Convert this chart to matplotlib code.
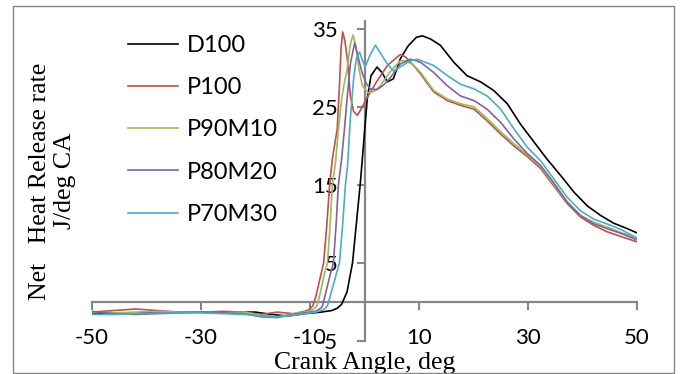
import numpy as np
import matplotlib.pyplot as plt
from matplotlib.patches import Rectangle

# Datos (angulo de ciguenal, tasa neta de liberacion de calor)
ang_d100 = [-50, -45, -40, -35, -30, -25, -20, -17, -14, -11, -8, -6, -5, -4.2, -3.2, -2.2, -1.5, -0.8, -0.4,
            0.5, 1.2, 2.3, 3.2, 4.2, 5.3, 6.6, 8, 9.5, 10.6, 12.1, 13.9, 16.4, 18.8, 21.3, 23.7, 26.2,
            28.6, 31.1, 33.5, 36.0, 38.4, 40.9, 43.3, 45.7, 48.2, 50]
hrr_d100 = [-1.4, -1.5, -1.4, -1.3, -1.3, -1.3, -1.3, -1.6, -1.8, -1.5, -1.3, -1.1, -0.8, -0.3, 1.3, 5.0, 10.0, 15.0, 18.3,
            26.0, 29.0, 30.1, 29.4, 28.2, 28.6, 31.2, 32.8, 33.9, 34.1, 33.7, 32.9, 30.7, 29.0, 28.2, 27.1, 25.4,
            22.8, 20.5, 18.3, 16.2, 14.1, 12.3, 11.1, 10.1, 9.4, 8.85]

ang_p100 = [-50, -46, -42, -38, -34, -30, -26, -22, -19, -16, -13, -11, -10, -9.5, -9, -8.5, -8, -7.5, -6.9, -6.4,
            -5.9, -5.0, -4.6, -4.3, -4.0, -3.6, -3.1, -2.6, -2.0, -1.3, -0.4, 0.5, 2.3, 4.2, 6.0, 6.6, 7.5, 9,
            10.3, 12.7, 15.2, 17.6, 20.1, 22.5, 25, 27.4, 29.9, 32.3, 34.7, 37.2, 39.6, 42.1, 44.5, 47, 50]
hrr_p100 = [-1.3, -1.1, -0.9, -1.1, -1.3, -1.3, -1.2, -1.3, -1.6, -1.3, -1.5, -1.2, -0.9, -0.5, 0.5, 2.0, 3.5, 5.0, 10.0, 15.0,
            18.3, 22.2, 27.7, 32.5, 34.6, 33.5, 30.8, 26.4, 24.4, 23.9, 25.0, 26.2, 28.3, 30.3, 31.4, 31.7, 31.4, 30.3,
            29.2, 26.9, 25.8, 25.2, 24.7, 23.2, 21.5, 20.0, 18.6, 17.1, 14.9, 12.6, 10.9, 9.8, 9.0, 8.4, 7.7]

ang_p90m10 = [-50, -46, -42, -38, -34, -30, -26, -22, -19, -16, -13, -11, -9.5, -8.7, -8.0, -7.4, -6.8, -6.3, -5.9,
              -5.3, -4.8, -4.2, -3.8, -3.2, -2.6, -2.1, -1.6, -1.0, -0.4, 0.7, 1.8, 2.9, 4.8, 6.6, 7.5, 8.4, 9.5,
              10.3, 12.7, 15.2, 17.6, 20.1, 22.5, 25, 27.4, 29.9, 32.3, 34.7, 37.2, 39.6, 42.1, 44.5, 47, 50]
hrr_p90m10 = [-1.3, -1.4, -1.3, -1.2, -1.3, -1.3, -1.4, -1.3, -1.7, -1.9, -1.5, -1.3, -1.0, -0.5, 1.5, 3.5, 5.0, 10.0, 15.0,
              18.0, 22.0, 26.0, 27.7, 29.8, 33.0, 34.2, 32.8, 29.8, 27.7, 26.8, 27.0, 27.7, 29.6, 30.9, 30.9, 30.6, 30.0,
              29.4, 27.1, 26.0, 25.4, 25.0, 23.5, 21.8, 20.3, 18.8, 17.3, 15.1, 12.8, 11.1, 10.2, 9.6, 8.9, 8.2]

ang_p80m20 = [-50, -46, -42, -38, -34, -30, -26, -22, -19, -16, -13, -11, -9, -8, -7.7, -7, -6.3, -5.7, -5.2, -4.8,
              -4.2, -3.7, -3.2, -2.6, -1.8, -1.2, -0.5, 0.3, 1.1, 2.3, 3.5, 4.8, 6.6, 8.4, 9.5, 10.3, 12.7, 15.2,
              17.6, 20.1, 22.5, 25, 27.4, 29.9, 32.3, 34.7, 37.2, 39.6, 42.1, 44.5, 47, 50]
hrr_p80m20 = [-1.2, -1.5, -1.6, -1.5, -1.4, -1.3, -1.4, -1.5, -1.9, -2.0, -1.6, -1.4, -1.2, -0.8, -0.5, 1.5, 3.5, 5.0, 10.0, 15.0,
              18.3, 22.0, 26.0, 30.5, 33.2, 31.5, 29.5, 28.0, 27.3, 27.2, 27.8, 28.8, 30.5, 31.1, 30.9, 30.7, 29.4, 27.7,
              26.4, 25.8, 24.7, 23.0, 20.9, 19.0, 17.5, 15.3, 12.8, 11.1, 10.0, 9.4, 8.8, 7.95]

ang_p70m30 = [-50, -46, -42, -38, -34, -30, -26, -22, -19, -16, -13, -11, -9, -7.5, -6.8, -6, -5.2, -4.6, -4.0, -3.5,
              -3.1, -2.6, -2.0, -1.5, -0.9, -0.4, 0.1, 1.0, 2.0, 3.0, 4.2, 5.3, 6.5, 8.4, 9.7, 12.7, 15.2, 17.6,
              20.1, 22.5, 25, 27.4, 29.9, 32.3, 34.7, 37.2, 39.6, 42.1, 44.5, 47, 50]
hrr_p70m30 = [-1.6, -1.6, -1.5, -1.4, -1.4, -1.4, -1.5, -1.6, -1.8, -1.9, -1.7, -1.5, -1.3, -1.0, -0.5, 1.5, 3.5, 5.0, 10.0, 15.0,
              17.5, 23.5, 28.6, 31.2, 32.0, 31.0, 30.1, 31.6, 32.9, 31.8, 30.5, 29.6, 30.1, 30.9, 31.1, 30.3, 29.0, 27.9,
              27.3, 26.4, 24.7, 22.2, 19.8, 18.1, 15.8, 13.4, 11.7, 10.6, 10.0, 9.3, 8.2]

series = ["D100", "P100", "P90M10", "P80M20", "P70M30"]
colores = ["#000000", "#C0504D", "#9BBB59", "#8064A2", "#4BACC6"]
datos = [(ang_d100, hrr_d100), (ang_p100, hrr_p100), (ang_p90m10, hrr_p90m10),
         (ang_p80m20, hrr_p80m20), (ang_p70m30, hrr_p70m30)]

xticks = [-50, -30, -10, 10, 30, 50]
yticks = [-5, 5, 15, 25, 35]

gris = "#868686"
fuente_sans = "Lato"
fuente_serif = "Liberation Serif"
plt.rcParams["axes.unicode_minus"] = False

fig = plt.figure(figsize=(6.8, 3.74), dpi=100)
ax = fig.add_axes([92 / 680, 33 / 374, 545 / 680, 320 / 374])

# Graficar cada serie
for nombre, color, (x, y) in zip(series, colores, datos):
    ax.plot(x, y, color=color, lw=1.2, label=nombre, zorder=2)

ax.set_xlim(-50, 50)
ax.set_ylim(-5, 36)

# Ejes que se cruzan en (0, 0)
for lado in ["top", "right"]:
    ax.spines[lado].set_visible(False)
for lado in ["left", "bottom"]:
    ax.spines[lado].set_position(("data", 0))
    ax.spines[lado].set_color(gris)
    ax.spines[lado].set_linewidth(1.6)
    ax.spines[lado].set_zorder(1.5)

ax.set_xticks(xticks)
ax.set_yticks(yticks)
ax.tick_params(axis="x", direction="out", length=6, width=1.5, color=gris, labelbottom=False)
ax.tick_params(axis="y", direction="out", length=6, width=1.5, color=gris, pad=13,
               labelsize=16)
for t in ax.get_yticklabels():
    t.set_fontfamily(fuente_sans)

# Etiquetas del eje x en la parte baja
sec = ax.secondary_xaxis("bottom")
sec.set_xticks(xticks)
sec.tick_params(length=0, pad=-9, labelsize=16)
sec.spines["bottom"].set_visible(False)
for t in sec.get_xticklabels():
    t.set_fontfamily(fuente_sans)

ax.set_xlabel("Crank Angle, deg", fontfamily=fuente_serif, fontsize=18.5)
ax.xaxis.set_label_coords(0.5, -0.035)
ax.set_ylabel("Net   Heat Release rate\nJ/deg CA", fontfamily=fuente_serif, fontsize=18.5,
              linespacing=1.15)
ax.yaxis.set_label_coords(-0.03, 0.5)

ax.legend(loc="upper left", bbox_to_anchor=(128 / 680, 1 - 35 / 374), bbox_transform=fig.transFigure,
          frameon=False, prop={"family": fuente_sans, "size": 17}, handlelength=2.1,
          handletextpad=0.38, labelspacing=0.9, borderpad=0, borderaxespad=0)

# Borde del area del grafico
fig.patches.append(Rectangle((13 / 680, 1 / 374), 661 / 680, 367 / 374, transform=fig.transFigure,
                             fill=False, edgecolor=gris, lw=1))

plt.savefig("out.png", dpi=100)
plt.close()
